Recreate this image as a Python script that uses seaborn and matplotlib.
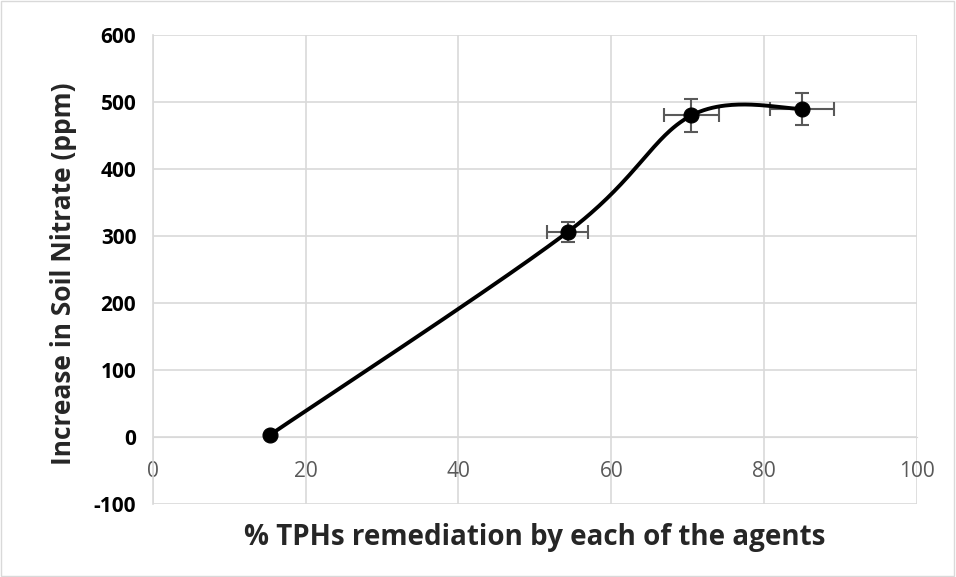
import numpy as np
import pandas as pd
import seaborn as sns
import matplotlib.pyplot as plt
from matplotlib.patches import Rectangle

# values
remediation = [15.3, 54.3, 70.5, 85.0]
nitrate = [3, 306, 480, 490]
remediation_err = [0.0, 2.7, 3.6, 4.2]
nitrate_err = [0, 15, 24, 24]
x_ticks = [0, 20, 40, 60, 80, 100]
y_ticks = [-100, 0, 100, 200, 300, 400, 500, 600]


def smooth_curve(xs, ys, steps=60):
    # Excel-style smoothed line: cubic Bezier through the points,
    # control points from neighbouring points (1/6 tangents)
    pts = np.column_stack([xs, ys]).astype(float)
    padded = np.vstack([pts[0], pts, pts[-1]])
    out = []
    t = np.linspace(0, 1, steps)[:, None]
    for i in range(len(pts) - 1):
        p0, p1, p2, p3 = padded[i], padded[i + 1], padded[i + 2], padded[i + 3]
        c1 = p1 + (p2 - p0) / 6
        c2 = p2 - (p3 - p1) / 6
        seg = ((1 - t) ** 3) * p1 + 3 * ((1 - t) ** 2) * t * c1 + 3 * (1 - t) * t ** 2 * c2 + t ** 3 * p2
        out.append(seg)
    seg = np.vstack(out)
    return pd.DataFrame({"x": seg[:, 0], "y": seg[:, 1]})


def main():
    sns.set_style("white")
    plt.rcParams["font.family"] = ["Open Sans", "DejaVu Sans"]
    plt.rcParams["axes.unicode_minus"] = False

    fig = plt.figure(figsize=(9.56, 5.77), dpi=100)
    ax = fig.add_axes([0.16, 0.1265, 0.799, 0.8128])

    curve = smooth_curve(remediation, nitrate)
    sns.lineplot(data=curve, x="x", y="y", sort=False, color="black", linewidth=2.8, ax=ax, zorder=3)

    ax.errorbar(remediation, nitrate, xerr=remediation_err, yerr=nitrate_err, fmt="none",
                ecolor="#595959", elinewidth=1.5, capsize=5, capthick=1.5, zorder=2)

    pts = pd.DataFrame({"x": remediation, "y": nitrate})
    sns.scatterplot(data=pts, x="x", y="y", color="black", s=115, edgecolor="black", ax=ax, zorder=4)

    ax.set_xlim(0, 100)
    ax.set_ylim(-100, 600)
    ax.set_xticks(x_ticks)
    ax.set_yticks(y_ticks)
    ax.grid(True, color="#d9d9d9", linewidth=1.2)
    ax.set_axisbelow(True)

    for side in ["top", "right"]:
        ax.spines[side].set_visible(False)
    ax.spines["bottom"].set_position(("data", 0))
    ax.spines["bottom"].set_color("#d9d9d9")
    ax.spines["left"].set_color("#d9d9d9")
    ax.spines["left"].set_linewidth(1.2)

    ax.tick_params(axis="y", length=5, color="#d9d9d9", labelsize=15, labelcolor="black", pad=7)
    ax.tick_params(axis="x", length=0, labelsize=15, labelcolor="#595959", pad=17)
    for lbl in ax.get_yticklabels():
        lbl.set_fontweight("bold")

    ax.set_xlabel("% TPHs remediation by each of the agents", fontsize=20, fontweight="bold")
    ax.xaxis.set_label_coords(0.5, -0.04)
    ax.set_ylabel("Increase in Soil Nitrate (ppm)", fontsize=19, fontweight="bold")
    ax.yaxis.set_label_coords(-0.10, 0.49)

    fig.patches.append(Rectangle((0.001, 0.002), 0.997, 0.996, transform=fig.transFigure,
                                 fill=False, edgecolor="#d9d9d9", linewidth=1))

    fig.savefig("out.png", dpi=100)
    plt.close(fig)


if __name__ == "__main__":
    main()
